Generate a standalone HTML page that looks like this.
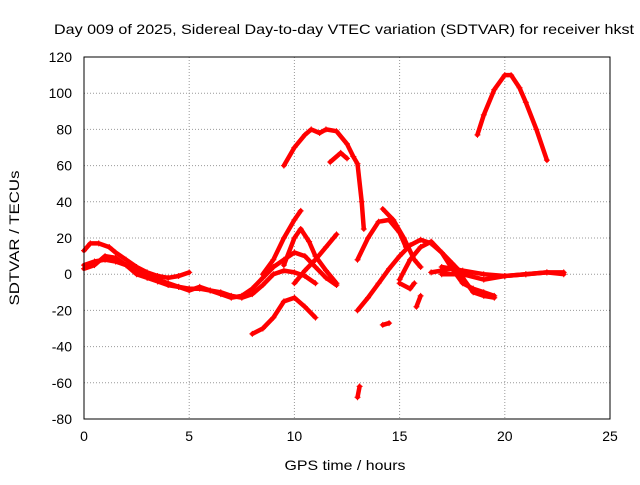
<!DOCTYPE html>
<html><head><meta charset="utf-8"><style>
body{margin:0;background:#fff}
svg text{font-family:"Liberation Sans",sans-serif;font-size:14px;fill:#000}
</style></head><body>
<svg id="chart" width="640" height="480">
<text x="344" y="34" text-anchor="middle" textLength="580" lengthAdjust="spacingAndGlyphs">Day 009 of 2025, Sidereal Day-to-day VTEC variation (SDTVAR) for receiver hkst</text>
<text transform="translate(19,238) rotate(-90)" text-anchor="middle" textLength="135" lengthAdjust="spacingAndGlyphs">SDTVAR / TECUs</text>
<text x="345" y="470" text-anchor="middle" textLength="121" lengthAdjust="spacingAndGlyphs">GPS time / hours</text>
<g id="grid"></g><g id="series"></g>
<rect x="84" y="57" width="526" height="362" fill="none" stroke="#000" stroke-width="1"/>
</svg>
<script>
const xTicks=[0,5,10,15,20,25];
const yTicks=[-80,-60,-40,-20,0,20,40,60,80,100,120];
const track1=[[0,13],[0.3,17],[0.7,17],[1.2,15],[1.5,12],[2,8],[2.5,4],[3,1],[3.5,-1],[4,-2],[4.5,-1],[5,1]];
const track2=[[0,5],[0.5,7],[1,8],[1.5,7],[2,5],[2.5,2],[3,0],[3.5,-3],[4,-5],[4.5,-7],[5,-8],[5.5,-8],[6,-9],[6.5,-10],[7,-12],[7.5,-13],[8,-11],[8.5,-6],[9,0],[9.5,2],[10,1],[10.5,-1],[11,-5]];
const track3=[[0,3],[0.5,5],[1,10],[1.5,9],[2,5],[2.5,0],[3,-2],[3.5,-4],[4,-6],[4.5,-7],[5,-9],[5.5,-7],[6,-9],[6.5,-11],[7,-13],[7.5,-12],[8,-8],[8.5,-2],[9,4],[9.5,8],[10,12],[10.5,10],[11,4],[11.5,-2],[12,-6]];
const track4=[[8,-33],[8.5,-30],[9,-24],[9.5,-15],[10,-13],[10.5,-18],[11,-24]];
const track5=[[8.5,0],[9,8],[9.5,20],[10,30],[10.3,35]];
const track6=[[9.5,5],[10,20],[10.3,25],[10.7,18],[11,10],[11.5,2],[12,-5]];
const track7=[[10,-5],[10.5,2],[11,8],[11.5,15],[12,22]];
const track8=[[9.5,60],[10,70],[10.5,77],[10.8,80],[11.2,78],[11.5,80],[12,79],[12.5,72],[12.8,65],[13,61],[13.2,40],[13.3,25]];
const track9=[[11.7,62],[12.2,67],[12.5,64]];
const track10=[[13,-68],[13.1,-62]];
const track11=[[13,-20],[13.5,-13],[14,-5],[14.5,3],[15,10],[15.5,16],[16,19],[16.5,17],[17,12],[17.5,6],[18,0]];
const track12=[[13,8],[13.5,20],[14,29],[14.5,30],[15,23],[15.3,15]];
const track13=[[14.2,36],[14.7,30],[15.2,20],[15.7,8],[16,4]];
const track14=[[15,-3],[15.5,8],[16,15],[16.5,18],[17,12],[17.5,3],[18,-5],[18.5,-8],[19,-10],[19.5,-12]];
const track15=[[15,-5],[15.5,-8],[15.7,-5]];
const track16=[[14.2,-28],[14.5,-27]];
const track17=[[15.8,-18],[16,-12]];
const track18=[[16.5,1],[17,2],[17.5,3],[18,-2],[18.5,-10],[19,-12],[19.5,-13]];
const track19=[[17,0],[18,0],[19,-3],[20,-1],[21,0],[22,1],[22.8,0]];
const track20=[[17,4],[18,2],[19,0],[20,-1],[21,0],[22,1],[22.8,1]];
const track21=[[18.7,77],[19,88],[19.5,102],[20,110],[20.3,110],[20.7,103],[21,95],[21.5,80],[22,63]];
const tracks=[track1,track2,track3,track4,track5,track6,track7,track8,track9,track10,track11,track12,track13,track14,track15,track16,track17,track18,track19,track20,track21];
const NS="http://www.w3.org/2000/svg";
const X=v=>84+v*526/25, Y=v=>419-(v+80)*362/200;
const grid=document.getElementById('grid'), ser=document.getElementById('series');
function mk(t,a,p){const e=document.createElementNS(NS,t);for(const k in a)e.setAttribute(k,a[k]);p.appendChild(e);return e;}
xTicks.forEach(t=>{
 const l=mk('line',{x1:X(t),x2:X(t),y1:57,y2:419,stroke:'#999','stroke-dasharray':'1,2'},grid);
 
 
 const tx=mk('text',{x:X(t),y:441,'text-anchor':'middle'},grid);tx.textContent=t;
 
 
});
yTicks.forEach(t=>{
 const l=mk('line',{x1:84,x2:610,y1:Y(t),y2:Y(t),stroke:'#999','stroke-dasharray':'1,2'},grid);
 
 
 const tx=mk('text',{x:72,y:Y(t)+5,'text-anchor':'end'},grid);tx.textContent=t;
 
 
});
tracks.forEach((tr,i)=>{
 const d=tr.map((p,j)=>(j?'L':'M')+X(p[0]).toFixed(1)+','+Y(p[1]).toFixed(1)).join('');
 const path=mk('path',{d:d,fill:'none',stroke:'#f00','stroke-width':4.5,'stroke-linejoin':'round','stroke-linecap':'round'},ser);
 
 
 tr.forEach(p=>{
  const m=mk('path',{d:`M${X(p[0])-3},${Y(p[1])}h6M${X(p[0])},${Y(p[1])-3}v6`,stroke:'#f00','stroke-width':1},ser);
  
  
 });
});
</script>
</body></html>
